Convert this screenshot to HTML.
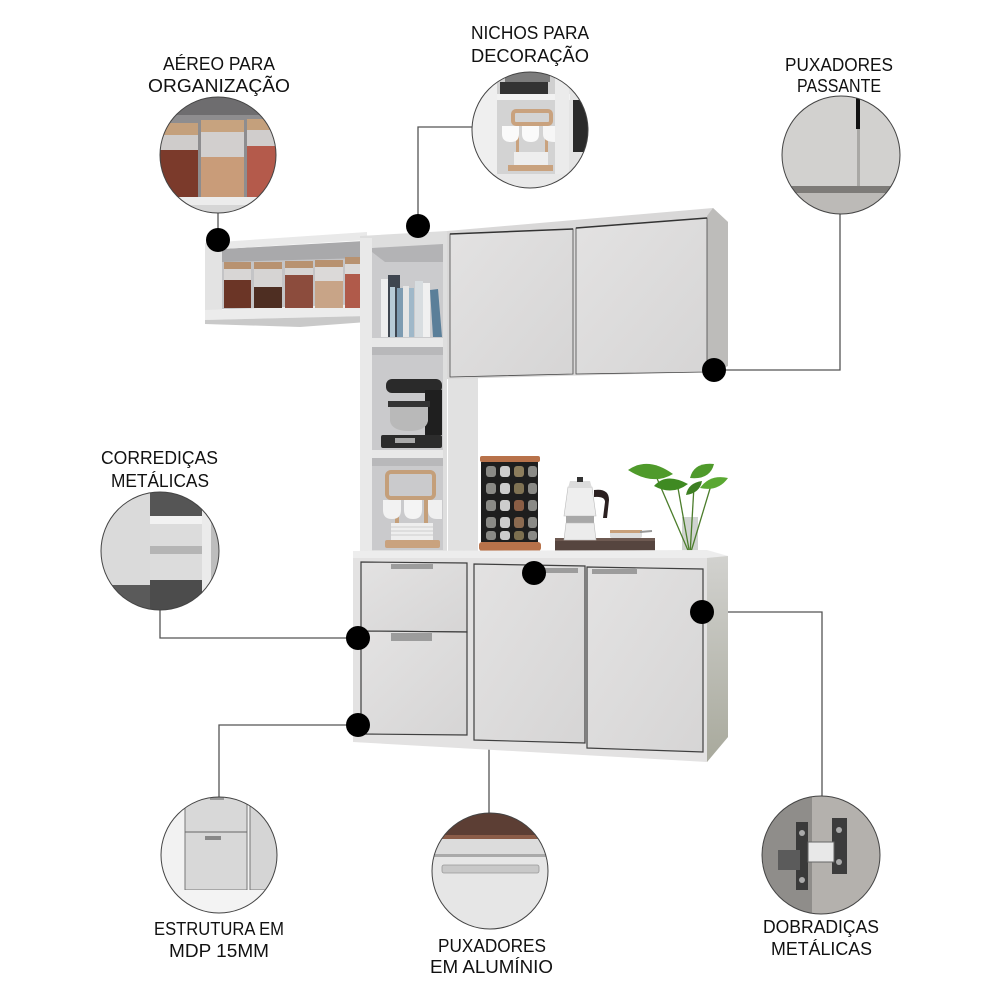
<!DOCTYPE html>
<html><head><meta charset="utf-8"><style>
html,body{margin:0;padding:0;background:#fff;}
svg{display:block;}
text{font-family:"Liberation Sans",sans-serif;font-size:18px;fill:#111;}
</style></head><body>
<svg width="1000" height="1000" viewBox="0 0 1000 1000" xmlns="http://www.w3.org/2000/svg">
<defs>
<clipPath id="c1"><circle cx="218" cy="155" r="58"/></clipPath>
<clipPath id="c2"><circle cx="530" cy="130" r="58"/></clipPath>
<clipPath id="c3"><circle cx="841" cy="155" r="59"/></clipPath>
<clipPath id="c4"><circle cx="160" cy="551" r="59"/></clipPath>
<clipPath id="c5"><circle cx="219" cy="855" r="58"/></clipPath>
<clipPath id="c6"><circle cx="490" cy="871" r="58"/></clipPath>
<clipPath id="c7"><circle cx="821" cy="855" r="59"/></clipPath>
<linearGradient id="side" x1="0" y1="0" x2="0" y2="1"><stop offset="0" stop-color="#d2d2cf"/><stop offset="1" stop-color="#a8a99c"/></linearGradient>
<linearGradient id="door" x1="0" y1="0" x2="1" y2="1"><stop offset="0" stop-color="#e3e2e2"/><stop offset="1" stop-color="#d6d5d5"/></linearGradient>
</defs>

<!-- connector lines -->
<g stroke="#555" stroke-width="1.3" fill="none">
<polyline points="218,213 218,240"/>
<polyline points="472,127 418,127 418,226"/>
<polyline points="840,214 840,370 714,370"/>
<polyline points="160,610 160,638 358,638"/>
<polyline points="358,725 219,725 219,797"/>
<polyline points="534,573 489,573 489,813"/>
<polyline points="702,612 822,612 822,796"/>
</g>

<!-- ============ CABINET ============ -->
<!-- Aereo open shelf -->
<rect x="222" y="249" width="142" height="60" fill="#c4c4c6"/>
<polygon points="222,249 364,241 364,258 222,262" fill="#a9a9ab"/>
<polygon points="205,243 367,232 367,240 222,249" fill="#e9e9e9"/>
<polygon points="205,243 222,249 222,312 205,318" fill="#e3e3e3"/>
<polygon points="205,310 367,304 367,316 205,320" fill="#ececec"/>
<polygon points="205,320 367,316 367,322 300,327 205,324" fill="#c9c9c9"/>
<!-- jars -->
<g>
<rect x="224" y="266" width="27" height="42" fill="#d8d6d5"/><rect x="224" y="280" width="27" height="28" fill="#6b3526"/><rect x="224" y="262" width="27" height="7" fill="#b89270"/>
<rect x="254" y="266" width="28" height="42" fill="#d6d4d3"/><rect x="254" y="287" width="28" height="21" fill="#4e2e22"/><rect x="254" y="262" width="28" height="7" fill="#b89270"/>
<rect x="285" y="265" width="28" height="43" fill="#d6d4d3"/><rect x="285" y="275" width="28" height="33" fill="#8c4c3d"/><rect x="285" y="261" width="28" height="7" fill="#b89270"/>
<rect x="315" y="264" width="28" height="44" fill="#dbd9d8"/><rect x="315" y="281" width="28" height="27" fill="#c8a487"/><rect x="315" y="260" width="28" height="7" fill="#b89270"/>
<rect x="345" y="262" width="16" height="46" fill="#dbd9d8"/><rect x="345" y="274" width="16" height="34" fill="#b05a4a"/><rect x="345" y="257" width="16" height="7" fill="#b89270"/>
</g>

<!-- Tall column -->
<polygon points="360,236 447,231 447,553 360,553" fill="#dedede"/>
<rect x="448" y="378" width="30" height="176" fill="#e1e1e1"/>
<rect x="360" y="238" width="12" height="315" fill="#e9e9e9"/>
<rect x="372" y="248" width="71" height="92" fill="#cbcbcd"/>
<polygon points="372,248 443,244 443,262 385,262 372,252" fill="#b3b3b5"/>
<rect x="372" y="338" width="71" height="9" fill="#e8e8e8"/>
<rect x="372" y="347" width="71" height="103" fill="#cacacc"/>
<rect x="372" y="347" width="71" height="8" fill="#b8b8ba"/>
<rect x="372" y="450" width="71" height="8" fill="#e8e8e8"/>
<rect x="372" y="458" width="71" height="92" fill="#cacacc"/>
<rect x="372" y="458" width="71" height="8" fill="#b8b8ba"/>
<!-- books -->
<g>
<rect x="381" y="279" width="7" height="58" fill="#eeeeee"/>
<rect x="388" y="275" width="12" height="62" fill="#3f4650"/>
<rect x="390" y="287" width="5" height="50" fill="#b7cbd7"/>
<rect x="397" y="288" width="6" height="49" fill="#7d9bb1"/>
<rect x="403" y="286" width="6" height="51" fill="#e5e5e5"/>
<rect x="409" y="288" width="5" height="49" fill="#9fb8c9"/>
<rect x="415" y="281" width="8" height="56" fill="#d8dde0"/>
<rect x="423" y="283" width="7" height="54" fill="#f0f0f0"/>
<polygon points="430,290 438,289 442,337 433,337" fill="#5b7f99"/>
</g>
<!-- mixer -->
<g>
<rect x="386" y="379" width="56" height="14" rx="6" fill="#2a2a2a"/>
<rect x="425" y="390" width="17" height="45" fill="#1f1f1f"/>
<path d="M390,407 h38 v14 q-2,10 -19,10 q-17,0 -19,-10z" fill="#b9b9b9"/>
<rect x="388" y="401" width="42" height="6" fill="#333"/>
<rect x="381" y="435" width="61" height="13" rx="2" fill="#2c2c2c"/>
<rect x="395" y="438" width="20" height="5" fill="#aaa"/>
</g>
<!-- mug holder -->
<g>
<rect x="387" y="472" width="47" height="26" rx="4" fill="none" stroke="#c49f7a" stroke-width="4"/>
<rect x="395" y="498" width="4" height="45" fill="#c49f7a"/>
<rect x="424" y="498" width="4" height="45" fill="#c49f7a"/>
<path d="M383,500 h18 v10 q0,9 -9,9 q-9,0 -9,-9z" fill="#f2f2f2"/>
<path d="M404,500 h18 v10 q0,9 -9,9 q-9,0 -9,-9z" fill="#f4f4f4"/>
<path d="M428,500 h14 v19 h-5 q-9,0 -9,-9z" fill="#f0f0f0"/>
<rect x="391" y="523" width="42" height="17" fill="#eeeeee"/>
<g stroke="#cfcfcf" stroke-width="1"><line x1="391" y1="527" x2="433" y2="527"/><line x1="391" y1="531" x2="433" y2="531"/><line x1="391" y1="535" x2="433" y2="535"/></g>
<rect x="385" y="540" width="55" height="8" rx="2" fill="#c9a27e"/>
</g>

<!-- Upper cabinet -->
<polygon points="447,231 713,208 728,222 728,366 714,372 447,379" fill="#d9d8d8"/>
<polygon points="707,216 713,208 728,222 728,366 714,372 707,372" fill="#bdbcba"/>
<polygon points="450,234 573,229 573,374 450,377" fill="url(#door)" stroke="#4a4a4a" stroke-width="0.8"/>
<polygon points="576,228 707,218 707,372 576,374" fill="url(#door)" stroke="#4a4a4a" stroke-width="0.8"/>
<line x1="450" y1="234" x2="573" y2="229" stroke="#333" stroke-width="1.5"/>
<line x1="576" y1="228" x2="707" y2="218" stroke="#333" stroke-width="1.5"/>

<!-- Counter items -->
<!-- spice rack -->
<g>
<rect x="480" y="456" width="60" height="6" rx="2" fill="#b8724a"/>
<rect x="481" y="462" width="57" height="80" fill="#1e1e1e"/>
<g fill="#8a8a86">
<rect x="486" y="466" width="10" height="11" rx="3"/><rect x="500" y="466" width="10" height="11" rx="3" fill="#ccc"/><rect x="514" y="466" width="10" height="11" rx="3" fill="#8c7d5c"/><rect x="528" y="466" width="9" height="11" rx="3"/>
<rect x="486" y="483" width="10" height="11" rx="3"/><rect x="500" y="483" width="10" height="11" rx="3" fill="#ccc"/><rect x="514" y="483" width="10" height="11" rx="3" fill="#7f7253"/><rect x="528" y="483" width="9" height="11" rx="3"/>
<rect x="486" y="500" width="10" height="11" rx="3"/><rect x="500" y="500" width="10" height="11" rx="3" fill="#ccc"/><rect x="514" y="500" width="10" height="11" rx="3" fill="#8a5d44"/><rect x="528" y="500" width="9" height="11" rx="3"/>
<rect x="486" y="517" width="10" height="11" rx="3"/><rect x="500" y="517" width="10" height="11" rx="3" fill="#ccc"/><rect x="514" y="517" width="10" height="11" rx="3" fill="#8b6a50"/><rect x="528" y="517" width="9" height="11" rx="3"/>
<rect x="486" y="531" width="10" height="9" rx="3"/><rect x="500" y="531" width="10" height="9" rx="3" fill="#ccc"/><rect x="514" y="531" width="10" height="9" rx="3" fill="#7c6f4f"/><rect x="528" y="531" width="9" height="9" rx="3"/>
</g>
<rect x="479" y="542" width="62" height="9" rx="3" fill="#b8724a"/>
</g>
<!-- tray -->
<rect x="555" y="538" width="100" height="18" fill="#56453f"/>
<rect x="555" y="538" width="100" height="3" fill="#6e5a52"/>
<rect x="610" y="530" width="32" height="8" rx="2" fill="#ddd"/>
<rect x="610" y="530" width="32" height="3" fill="#c8a07a"/>
<line x1="640" y1="532" x2="652" y2="531" stroke="#999" stroke-width="2"/>
<!-- moka pot -->
<g>
<polygon points="568,487 592,487 596,516 564,516" fill="#eeeeee" stroke="#bbb" stroke-width="0.6"/>
<rect x="566" y="516" width="28" height="7" fill="#a8a8a8"/>
<polygon points="566,523 594,523 596,540 564,540" fill="#ececec" stroke="#bbb" stroke-width="0.6"/>
<polygon points="570,481 590,481 592,488 568,488" fill="#dcdcdc"/>
<rect x="577" y="477" width="6" height="5" fill="#333"/>
<path d="M594,490 q15,-2 15,10 l-2,18 h-4 l2,-16 q0,-6 -11,-5z" fill="#2b2020"/>
</g>
<!-- plant -->
<g>
<rect x="682" y="517" width="16" height="39" fill="#c4c9c4" opacity="0.8"/>
<g stroke="#4c7d2c" stroke-width="1.3" fill="none"><line x1="690" y1="555" x2="678" y2="488"/><line x1="690" y1="555" x2="694" y2="486"/><line x1="690" y1="555" x2="712" y2="482"/><line x1="690" y1="555" x2="656" y2="476"/></g>
<g fill="#4f9a2b">
<path d="M628,470 q20,-14 45,4 q-20,12 -45,-4z"/>
<path d="M654,486 q12,-14 34,-2 q-16,12 -34,2z" fill="#3f8a22"/>
<path d="M690,478 q4,-16 24,-14 q-4,16 -24,14z"/>
<path d="M700,488 q10,-14 28,-10 q-10,14 -28,10z" fill="#5aa832"/>
<path d="M686,495 q2,-12 16,-14 q-2,12 -16,14z" fill="#3d7f22"/>
</g>
</g>

<!-- Base cabinet -->
<polygon points="353,553 707,552 728,556 728,737 707,762 353,742" fill="#e3e2e2"/>
<polygon points="353,551 707,550 728,556 707,558 353,558" fill="#ededed"/>
<polygon points="707,558 728,556 728,737 707,762" fill="url(#side)"/>
<g stroke="#3f3f3f" stroke-width="1.2">
<polygon points="361,562 467,563 467,632 361,631" fill="url(#door)"/>
<polygon points="361,631 467,632 467,735 361,734" fill="url(#door)"/>
<polygon points="474,564 585,566 585,743 474,740" fill="url(#door)"/>
<polygon points="587,567 703,569 703,752 587,748" fill="url(#door)"/>
</g>
<g fill="#9c9c9c">
<rect x="391" y="564" width="42" height="5"/>
<rect x="391" y="633" width="41" height="8"/>
<rect x="545" y="568" width="33" height="5"/>
<rect x="592" y="569" width="45" height="5"/>
</g>

<!-- dots -->
<g fill="#000">
<circle cx="218" cy="240" r="12"/>
<circle cx="418" cy="226" r="12"/>
<circle cx="714" cy="370" r="12"/>
<circle cx="358" cy="638" r="12"/>
<circle cx="358" cy="725" r="12"/>
<circle cx="534" cy="573" r="12"/>
<circle cx="702" cy="612" r="12"/>
</g>

<!-- ============ DETAIL CIRCLES ============ -->
<!-- 1 aereo -->
<g clip-path="url(#c1)">
<rect x="150" y="90" width="140" height="130" fill="#8e8d8f"/>
<rect x="150" y="90" width="140" height="25" fill="#6e6d6f"/>
<rect x="158" y="133" width="40" height="65" fill="#cfcccb"/><rect x="158" y="150" width="40" height="48" fill="#7b3a2b"/><rect x="158" y="123" width="40" height="12" fill="#c4a07c"/>
<rect x="201" y="130" width="43" height="68" fill="#d2cfce"/><rect x="201" y="157" width="43" height="41" fill="#c99c79"/><rect x="201" y="120" width="43" height="12" fill="#c7a37f"/>
<rect x="247" y="128" width="30" height="70" fill="#d0cdcc"/><rect x="247" y="146" width="30" height="52" fill="#b45a4b"/><rect x="247" y="119" width="30" height="11" fill="#c4a07c"/>
<rect x="150" y="197" width="140" height="8" fill="#ececec"/>
<rect x="150" y="205" width="140" height="15" fill="#d6d6d6"/>
</g>
<circle cx="218" cy="155" r="58" fill="none" stroke="#444" stroke-width="1"/>
<!-- 2 nichos -->
<g clip-path="url(#c2)">
<rect x="470" y="70" width="122" height="122" fill="#e4e4e4"/>
<rect x="497" y="70" width="58" height="25" fill="#d0d0d0"/>
<rect x="505" y="70" width="45" height="12" fill="#7c7c7c"/>
<rect x="500" y="82" width="48" height="12" fill="#333"/>
<rect x="470" y="94" width="100" height="6" fill="#f2f2f2"/>
<rect x="497" y="100" width="58" height="74" fill="#d3d3d3"/>
<rect x="472" y="70" width="25" height="122" fill="#efefef"/>
<rect x="555" y="70" width="14" height="122" fill="#ebebeb"/>
<rect x="573" y="100" width="20" height="52" fill="#2a2a2a"/>
<rect x="513" y="111" width="38" height="13" rx="3" fill="none" stroke="#c9a27e" stroke-width="4"/>
<rect x="516" y="124" width="3" height="40" fill="#c9a27e"/><rect x="545" y="124" width="3" height="40" fill="#c9a27e"/>
<path d="M502,126 h17 v8 q0,8 -8,8 q-9,0 -9,-8z" fill="#fafafa"/>
<path d="M522,126 h17 v8 q0,8 -8,8 q-9,0 -9,-8z" fill="#fafafa"/>
<path d="M543,126 h12 v16 q-12,0 -12,-8z" fill="#f6f6f6"/>
<rect x="514" y="152" width="34" height="13" fill="#eeeeee"/>
<rect x="508" y="165" width="45" height="6" fill="#c9a27e"/>
<rect x="470" y="174" width="122" height="20" fill="#e8e8e8"/>
</g>
<circle cx="530" cy="130" r="58" fill="none" stroke="#444" stroke-width="1"/>
<!-- 3 puxadores passante -->
<g clip-path="url(#c3)">
<rect x="780" y="95" width="125" height="125" fill="#d2d1cf"/>
<rect x="856" y="95" width="4" height="34" fill="#111"/>
<rect x="857" y="129" width="3" height="58" fill="#a9a8a5"/>
<rect x="780" y="186" width="125" height="7" fill="#7d7b78"/>
<rect x="780" y="193" width="125" height="25" fill="#bcbab7"/>
</g>
<circle cx="841" cy="155" r="59" fill="none" stroke="#444" stroke-width="1"/>
<!-- 4 corredicas -->
<g clip-path="url(#c4)">
<rect x="100" y="490" width="125" height="125" fill="#cfcfcf"/>
<rect x="100" y="490" width="50" height="125" fill="#dadada"/>
<rect x="150" y="490" width="52" height="26" fill="#555"/>
<rect x="150" y="516" width="52" height="8" fill="#f2f2f2"/>
<rect x="150" y="524" width="52" height="56" fill="#dcdcdc"/>
<rect x="150" y="546" width="52" height="8" fill="#b5b5b5"/>
<rect x="150" y="580" width="75" height="35" fill="#4c4c4c"/>
<rect x="100" y="585" width="50" height="30" fill="#5a5a5a"/>
<rect x="202" y="490" width="9" height="125" fill="#ebebeb"/>
<rect x="211" y="490" width="14" height="125" fill="#bdbdbd"/>
</g>
<circle cx="160" cy="551" r="59" fill="none" stroke="#444" stroke-width="1"/>
<!-- 5 estrutura -->
<g clip-path="url(#c5)">
<rect x="158" y="795" width="122" height="122" fill="#f2f2f2"/>
<rect x="185" y="795" width="62" height="95" fill="#d8d8d8" stroke="#777" stroke-width="1"/>
<line x1="185" y1="832" x2="247" y2="832" stroke="#666" stroke-width="1"/>
<rect x="205" y="836" width="16" height="4" fill="#888"/>
<rect x="210" y="797" width="14" height="3" fill="#999"/>
<rect x="250" y="795" width="30" height="95" fill="#d5d5d5" stroke="#777" stroke-width="1"/>
<rect x="180" y="890" width="100" height="30" fill="#f3f3f3"/>
</g>
<circle cx="219" cy="855" r="58" fill="none" stroke="#444" stroke-width="1"/>
<!-- 6 puxadores aluminio -->
<g clip-path="url(#c6)">
<rect x="430" y="810" width="120" height="125" fill="#e6e6e6"/>
<rect x="430" y="810" width="120" height="27" fill="#5c3e34"/>
<rect x="430" y="835" width="120" height="4" fill="#8b5c48"/>
<rect x="430" y="839" width="120" height="15" fill="#dcdcdc"/>
<rect x="430" y="854" width="120" height="3" fill="#aaa"/>
<rect x="442" y="865" width="97" height="8" rx="2" fill="#c8c8c8" stroke="#999" stroke-width="0.8"/>
</g>
<circle cx="490" cy="871" r="58" fill="none" stroke="#444" stroke-width="1"/>
<!-- 7 dobradicas -->
<g clip-path="url(#c7)">
<rect x="760" y="795" width="125" height="125" fill="#8f8d8a"/>
<rect x="812" y="795" width="73" height="125" fill="#b4b1ad"/>
<rect x="796" y="822" width="12" height="68" fill="#3a3a3a"/>
<rect x="778" y="850" width="22" height="20" fill="#5b5b5b"/>
<rect x="832" y="818" width="15" height="56" fill="#3c3c3c"/>
<circle cx="839" cy="830" r="3" fill="#aaa"/><circle cx="839" cy="862" r="3" fill="#aaa"/>
<circle cx="802" cy="833" r="3" fill="#aaa"/><circle cx="802" cy="880" r="3" fill="#aaa"/>
<rect x="808" y="842" width="26" height="20" fill="#e8e8e8" stroke="#666" stroke-width="1"/>
</g>
<circle cx="821" cy="855" r="59" fill="none" stroke="#444" stroke-width="1"/>

<!-- ============ LABELS ============ -->
<text x="163" y="70" textLength="112" lengthAdjust="spacingAndGlyphs">AÉREO PARA</text>
<text x="148" y="92" textLength="142" lengthAdjust="spacingAndGlyphs">ORGANIZAÇÃO</text>
<text x="471" y="39" textLength="118" lengthAdjust="spacingAndGlyphs">NICHOS PARA</text>
<text x="471" y="62" textLength="118" lengthAdjust="spacingAndGlyphs">DECORAÇÃO</text>
<text x="785" y="71" textLength="108" lengthAdjust="spacingAndGlyphs">PUXADORES</text>
<text x="797" y="92" textLength="84" lengthAdjust="spacingAndGlyphs">PASSANTE</text>
<text x="101" y="464" textLength="117" lengthAdjust="spacingAndGlyphs">CORREDIÇAS</text>
<text x="111" y="487" textLength="98" lengthAdjust="spacingAndGlyphs">METÁLICAS</text>
<text x="154" y="935" textLength="130" lengthAdjust="spacingAndGlyphs">ESTRUTURA EM</text>
<text x="169" y="957" textLength="100" lengthAdjust="spacingAndGlyphs">MDP 15MM</text>
<text x="438" y="952" textLength="108" lengthAdjust="spacingAndGlyphs">PUXADORES</text>
<text x="430" y="973" textLength="123" lengthAdjust="spacingAndGlyphs">EM ALUMÍNIO</text>
<text x="763" y="933" textLength="116" lengthAdjust="spacingAndGlyphs">DOBRADIÇAS</text>
<text x="771" y="955" textLength="101" lengthAdjust="spacingAndGlyphs">METÁLICAS</text>
</svg>
</body></html>
